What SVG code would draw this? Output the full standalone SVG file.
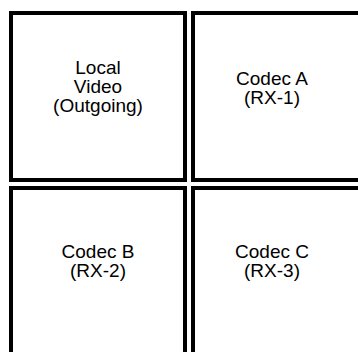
<svg xmlns="http://www.w3.org/2000/svg" width="358" height="352" viewBox="0 0 358 352">
<style>
.box{fill:#fff;stroke:#000;stroke-width:4}
.t{font-family:"Liberation Sans",Arial,sans-serif;font-size:19px;fill:#000;text-anchor:middle}
</style>
<rect width="358" height="352" fill="#fff"/>
<g id="local">
<rect class="box" x="11" y="13" width="174" height="167"/>
<text class="t" x="98" y="74">Local</text>
<text class="t" x="98" y="93">Video</text>
<text class="t" x="98" y="112">(Outgoing)</text>
</g>
<g id="codecA">
<rect class="box" x="193" y="13" width="174" height="167"/>
<text class="t" x="272" y="85">Codec A</text>
<text class="t" x="272" y="104">(RX-1)</text>
</g>
<g id="codecB">
<rect class="box" x="11" y="188" width="174" height="175"/>
<text class="t" x="98" y="258">Codec B</text>
<text class="t" x="98" y="277">(RX-2)</text>
</g>
<g id="codecC">
<rect class="box" x="193" y="188" width="174" height="175"/>
<text class="t" x="272" y="258">Codec C</text>
<text class="t" x="272" y="277">(RX-3)</text>
</g>
<g id="connectors"></g>
</svg>
